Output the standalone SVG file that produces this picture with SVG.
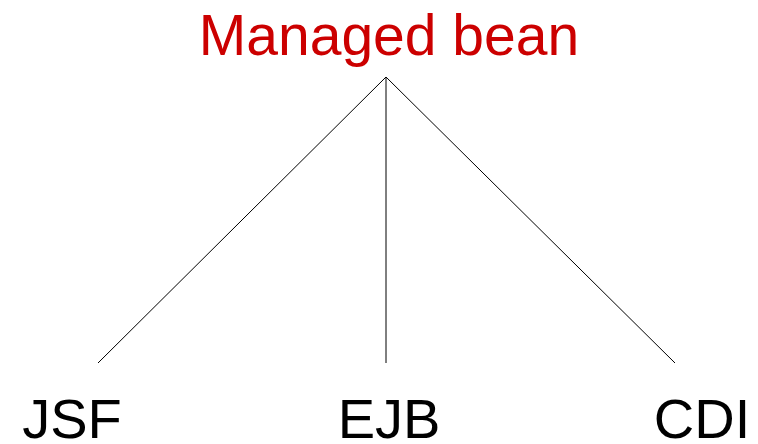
<svg xmlns="http://www.w3.org/2000/svg" width="758" height="444" viewBox="0 0 758 444">
<style>
.lbl{font-family:"Liberation Sans",Arial,sans-serif;font-size:56px;text-anchor:middle;fill:#000}
.root{fill:#cc0000;font-size:57px}
.edge{stroke:#000;stroke-width:1;fill:none}
</style>
<rect width="758" height="444" fill="#fff"/>
<g id="connectors">
<line class="edge" x1="386" y1="77" x2="98" y2="363"/>
<line class="edge" x1="386" y1="77" x2="386" y2="363"/>
<line class="edge" x1="386" y1="77" x2="675" y2="363"/>
</g>
<g id="managed-bean"><text class="lbl root" x="389" y="55">Managed bean</text></g>
<g id="jsf"><text class="lbl" x="72" y="438">JSF</text></g>
<g id="ejb"><text class="lbl" x="389" y="438">EJB</text></g>
<g id="cdi"><text class="lbl" x="702" y="438">CDI</text></g>
</svg>
